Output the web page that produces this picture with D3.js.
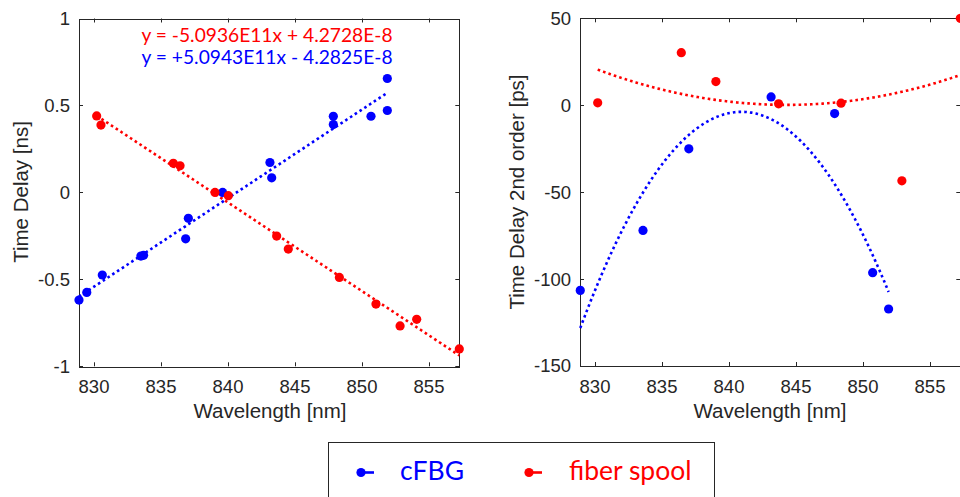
<!DOCTYPE html>
<html>
<head>
<meta charset="utf-8">
<script src="https://cdn.jsdelivr.net/npm/d3@7"></script>
<style>
  html, body { margin: 0; padding: 0; background: #fff; }
  svg { display: block; }
  .tick-label { font-family: "Liberation Sans", Arial, sans-serif; font-size: 18.5px; fill: #262626; }
  .axis-title { font-family: "Liberation Sans", Arial, sans-serif; font-size: 20.5px; fill: #262626; }
  .eq { font-family: Lato, "Open Sans", sans-serif; font-size: 19.2px; }
  .legend-text { font-family: Lato, "Open Sans", sans-serif; font-size: 26.5px; }
</style>
</head>
<body>
<svg id="chart" width="960" height="497"></svg>
<script>
// Wavelength ticks shared by both panels
const xTicks = [830, 835, 840, 845, 850, 855];
const xDomain = [828.88, 857.26];
const leftYTicks = [-1, -0.5, 0, 0.5, 1];
const rightYTicks = [-150, -100, -50, 0, 50];

// Measured time delay [ns] vs wavelength [nm]
const cfbgWl    = [828.88, 829.46, 830.62, 833.5, 833.7, 836.84, 837.04, 839.6, 843.13, 843.26, 847.86, 847.86, 850.67, 851.89, 851.89];
const cfbgDelay = [-0.619, -0.575, -0.475, -0.366, -0.362, -0.267, -0.149, 0.0, 0.172, 0.084, 0.438, 0.39, 0.438, 0.471, 0.655];
const spoolWl    = [830.2, 830.52, 835.92, 836.42, 839.03, 840.02, 843.63, 844.5, 848.31, 851.04, 852.84, 854.08, 857.26];
const spoolDelay = [0.44, 0.387, 0.167, 0.153, 0.0, -0.019, -0.251, -0.326, -0.489, -0.642, -0.768, -0.73, -0.9];

// Linear fits as printed: [slope, intercept]
const cfbgLinFit  = [5.0943e11, -4.2825e-8];
const spoolLinFit = [-5.0936e11, 4.2728e-8];
const cfbgEqText  = "y = +5.0943E11x - 4.2825E-8";
const spoolEqText = "y = -5.0936E11x + 4.2728E-8";

// Second-order residual delay [ps]
const cfbg2Wl    = [828.9, 833.58, 837.0, 843.14, 847.88, 850.72, 851.91];
const cfbg2Delay = [-106.5, -72.0, -25.1, 4.8, -4.8, -96.3, -117.2];
const spool2Wl    = [830.2, 836.44, 839.02, 843.7, 848.36, 852.9, 857.26];
const spool2Delay = [1.4, 30.2, 13.6, 0.8, 1.2, -43.5, 50];

// Quadratic trends in vertex form: [curvature, vertex wavelength, vertex value]
const cfbgQuadFit  = [-0.8595, 840.93, -3.8];
const spoolQuadFit = [0.102, 844.3, 0.2];

const legendLabels = ["cFBG", "fiber spool"];
const BLUE = "#0000ff", RED = "#ff0000", AXIS = "#262626";

const svg = d3.select("#chart");

// Fit coefficients are in s and m-scaled units; convert to ns versus nm
function linFitNs(fit, wl) { return fit[0] * 1e-13 * wl + fit[1] * 1e9; }
function quadFit(fit, wl) { return fit[0] * (wl - fit[1]) ** 2 + fit[2]; }

function drawFrame(g, x, y, yTicks, yFmt) {
  const [x0, x1] = x.range();
  const [y0, y1] = y.range(); // y0 bottom, y1 top
  const tickLen = 4;
  // ticks on all four sides, pointing inward
  xTicks.forEach(t => {
    const px = Math.round(x(t)) + 0.5;
    g.append("line").attr("x1", px).attr("x2", px).attr("y1", y0).attr("y2", y0 - tickLen).attr("stroke", AXIS);
    g.append("line").attr("x1", px).attr("x2", px).attr("y1", y1).attr("y2", y1 + tickLen).attr("stroke", AXIS);
    g.append("text").attr("class", "tick-label").attr("x", x(t)).attr("y", y0 + 27)
      .attr("text-anchor", "middle").text(t);
  });
  yTicks.forEach(t => {
    const py = Math.round(y(t)) + 0.5;
    g.append("line").attr("x1", x0).attr("x2", x0 + tickLen).attr("y1", py).attr("y2", py).attr("stroke", AXIS);
    g.append("line").attr("x1", x1).attr("x2", x1 - tickLen).attr("y1", py).attr("y2", py).attr("stroke", AXIS);
    g.append("text").attr("class", "tick-label").attr("x", x0 - 9).attr("y", y(t))
      .attr("dy", "0.35em").attr("text-anchor", "end").text(yFmt(t));
  });
  g.append("rect")
    .attr("x", Math.round(x0) + 0.5).attr("y", Math.round(y1) + 0.5)
    .attr("width", Math.round(x1 - x0)).attr("height", Math.round(y0 - y1))
    .attr("fill", "none").attr("stroke", AXIS).attr("stroke-width", 1);
}

function dottedPath(g, x, y, wls, fn, color) {
  const lo = d3.min(wls), hi = d3.max(wls);
  const samples = d3.range(0, 201).map(i => lo + (hi - lo) * i / 200);
  g.append("path")
    .datum(samples)
    .attr("d", d3.line().x(w => x(w)).y(w => y(fn(w))))
    .attr("fill", "none").attr("stroke", color)
    .attr("stroke-width", 2.6).attr("stroke-dasharray", "2.6,3.1");
}

function dots(g, x, y, wls, vals, color) {
  g.selectAll(null).data(wls).enter().append("circle")
    .attr("cx", w => x(w)).attr("cy", (w, i) => y(vals[i]))
    .attr("r", 4.6).attr("fill", color);
}

const fmtLeft = t => (t === 0 ? "0" : String(t));

// ---- Left panel: time delay ----
{
  const g = svg.append("g");
  const x = d3.scaleLinear().domain(xDomain).range([79, 459.3]);
  const y = d3.scaleLinear().domain([-1, 1]).range([366.3, 18.5]);
  drawFrame(g, x, y, leftYTicks, fmtLeft);
  dottedPath(g, x, y, cfbgWl, w => linFitNs(cfbgLinFit, w), BLUE);
  dottedPath(g, x, y, spoolWl, w => linFitNs(spoolLinFit, w), RED);
  dots(g, x, y, cfbgWl, cfbgDelay, BLUE);
  dots(g, x, y, spoolWl, spoolDelay, RED);
  g.append("text").attr("class", "eq").attr("x", 267).attr("y", 41.5)
    .attr("text-anchor", "middle").attr("fill", RED).text(spoolEqText);
  g.append("text").attr("class", "eq").attr("x", 267).attr("y", 63.5)
    .attr("text-anchor", "middle").attr("fill", BLUE).text(cfbgEqText);
  g.append("text").attr("class", "axis-title").attr("x", 270).attr("y", 418)
    .attr("text-anchor", "middle").text("Wavelength [nm]");
  g.append("text").attr("class", "axis-title")
    .attr("transform", "translate(28,192) rotate(-90)")
    .attr("text-anchor", "middle").text("Time Delay [ns]");
}

// ---- Right panel: second-order residual ----
{
  const g = svg.append("g");
  const x = d3.scaleLinear().domain(xDomain).range([580, 960.3]);
  const y = d3.scaleLinear().domain([-150, 50]).range([366, 18.3]);
  drawFrame(g, x, y, rightYTicks, t => String(t));
  dottedPath(g, x, y, cfbg2Wl, w => quadFit(cfbgQuadFit, w), BLUE);
  dottedPath(g, x, y, spool2Wl, w => quadFit(spoolQuadFit, w), RED);
  dots(g, x, y, cfbg2Wl, cfbg2Delay, BLUE);
  dots(g, x, y, spool2Wl, spool2Delay, RED);
  g.append("text").attr("class", "axis-title").attr("x", 770).attr("y", 418)
    .attr("text-anchor", "middle").text("Wavelength [nm]");
  g.append("text").attr("class", "axis-title")
    .attr("transform", "translate(524,192) rotate(-90)")
    .attr("text-anchor", "middle").text("Time Delay 2nd order [ps]");
}

// ---- Legend ----
{
  const g = svg.append("g");
  g.append("rect").attr("x", 328.5).attr("y", 442.5).attr("width", 386).attr("height", 70)
    .attr("fill", "#fff").attr("stroke", AXIS).attr("stroke-width", 1);
  const entries = [
    { label: legendLabels[0], color: BLUE, mx: 361, tx: 400 },
    { label: legendLabels[1], color: RED, mx: 529, tx: 569 }
  ];
  entries.forEach(e => {
    g.append("line").attr("x1", e.mx).attr("x2", e.mx + 13).attr("y1", 472.5).attr("y2", 472.5)
      .attr("stroke", e.color).attr("stroke-width", 2.6);
    g.append("circle").attr("cx", e.mx).attr("cy", 472.5).attr("r", 4.6).attr("fill", e.color);
    g.append("text").attr("class", "legend-text").attr("x", e.tx).attr("y", 479.5)
      .attr("fill", e.color).text(e.label);
  });
}
</script>
</body>
</html>
